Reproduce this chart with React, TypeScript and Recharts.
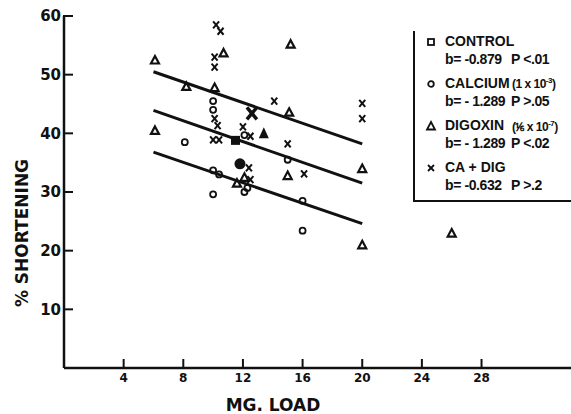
import React from "react";
import { ScatterChart, Scatter, XAxis, YAxis } from "recharts";

const xTicks = [4, 8, 12, 16, 20, 24, 28];
const yTicks = [10, 20, 30, 40, 50, 60];

// calcium (open circles)
const calcium = [
  { x: 10.0, y: 45.5 }, { x: 10.0, y: 44.0 }, { x: 8.1, y: 38.5 },
  { x: 12.1, y: 39.7 }, { x: 10.0, y: 33.7 }, { x: 10.4, y: 33.0 },
  { x: 12.3, y: 30.7 }, { x: 12.1, y: 30.0 }, { x: 10.0, y: 29.6 },
  { x: 15.0, y: 35.5 }, { x: 16.0, y: 28.5 }, { x: 16.0, y: 23.4 },
];

// digoxin (open triangles)
const digoxin = [
  { x: 6.1, y: 52.5 }, { x: 10.7, y: 53.7 }, { x: 8.2, y: 48.0 },
  { x: 10.1, y: 47.8 }, { x: 6.1, y: 40.5 }, { x: 11.6, y: 31.5 },
  { x: 12.1, y: 32.5 }, { x: 15.2, y: 55.2 }, { x: 15.1, y: 43.6 },
  { x: 15.0, y: 32.8 }, { x: 20.0, y: 34.0 }, { x: 20.0, y: 21.0 },
  { x: 26.0, y: 23.0 },
];

// ca + dig (crosses)
const caDig = [
  { x: 10.2, y: 58.5 }, { x: 10.5, y: 57.4 }, { x: 10.1, y: 53.0 },
  { x: 10.1, y: 51.3 }, { x: 10.1, y: 42.5 }, { x: 10.3, y: 41.3 },
  { x: 12.0, y: 41.1 }, { x: 10.0, y: 38.9 }, { x: 10.4, y: 38.9 },
  { x: 12.5, y: 39.5 }, { x: 12.4, y: 34.1 }, { x: 12.5, y: 32.1 },
  { x: 14.1, y: 45.5 }, { x: 20.0, y: 45.1 }, { x: 20.0, y: 42.5 },
  { x: 15.0, y: 38.2 }, { x: 16.1, y: 33.1 },
];

// group means (filled symbols)
const controlMean = [{ x: 11.5, y: 38.8 }];
const calciumMean = [{ x: 11.8, y: 34.8 }];
const digoxinMean = [{ x: 13.4, y: 40.0 }];
const caDigMean = [{ x: 12.6, y: 43.4 }];

// regression lines
const lineA = [{ x: 6, y: 50.5 }, { x: 20, y: 38.2 }];
const lineB = [{ x: 6, y: 43.9 }, { x: 20, y: 31.5 }];
const lineC = [{ x: 6, y: 36.8 }, { x: 20, y: 24.6 }];

const legendRows = [
  { symbol: "square", name: "CONTROL", extra: "", exp: "", close: "", b: "-0.879", p: "P <.01" },
  { symbol: "circle", name: "CALCIUM", extra: "(1 x 10", exp: "-3", close: ")", b: "- 1.289", p: "P >.05" },
  { symbol: "triangle", name: "DIGOXIN", extra: "(\u2159 x 10", exp: "-7", close: ")", b: "- 1.289", p: "P <.02" },
  { symbol: "cross", name: "CA + DIG", extra: "", exp: "", close: "", b: "-0.632", p: "P >.2" },
];

const INK = "#111";
const FONT = "'DejaVu Sans', sans-serif";
const LEG_FONT = "'Liberation Sans', Arial, sans-serif";

const OpenCircle = (p: any) => (
  <circle cx={p.cx} cy={p.cy} r={3} fill="none" stroke={INK} strokeWidth={1.8} />
);
const OpenTriangle = (p: any) => (
  <path
    d={`M${p.cx},${p.cy - 4} L${p.cx + 4},${p.cy + 3.5} L${p.cx - 4},${p.cy + 3.5} Z`}
    fill="none"
    stroke={INK}
    strokeWidth={2.2}
  />
);
const Cross = (p: any) => (
  <g stroke={INK} strokeWidth={2}>
    <line x1={p.cx - 3} y1={p.cy - 3.5} x2={p.cx + 3} y2={p.cy + 3.5} />
    <line x1={p.cx + 3} y1={p.cy - 3.5} x2={p.cx - 3} y2={p.cy + 3.5} />
  </g>
);
const FilledSquare = (p: any) => (
  <rect x={p.cx - 4.5} y={p.cy - 4.5} width={9} height={9} fill={INK} />
);
const FilledCircle = (p: any) => <circle cx={p.cx} cy={p.cy} r={5.5} fill={INK} />;
const FilledTriangle = (p: any) => (
  <path
    d={`M${p.cx},${p.cy - 6} L${p.cx + 5},${p.cy + 5} L${p.cx - 5},${p.cy + 5} Z`}
    fill={INK}
  />
);
const BoldCross = (p: any) => (
  <g stroke={INK} strokeWidth={3.5}>
    <line x1={p.cx - 5} y1={p.cy - 6} x2={p.cx + 5} y2={p.cy + 6} />
    <line x1={p.cx + 5} y1={p.cy - 6} x2={p.cx - 5} y2={p.cy + 6} />
  </g>
);
const NoDot = () => <g />;

const XTick = (props: any) => {
  const { x, y, payload } = props;
  return (
    <g>
      <line x1={x} x2={x} y1={y - 10} y2={y - 19} stroke={INK} strokeWidth={2} />
      <text x={x} y={y} dy="0.3em" textAnchor="middle" fill={INK} fontSize={12} fontWeight="bold" fontFamily={FONT}>
        {payload.value}
      </text>
    </g>
  );
};

const YTick = (props: any) => {
  const { x, y, payload } = props;
  return (
    <g>
      <line x1={x + 2} x2={x + 12} y1={y} y2={y} stroke={INK} strokeWidth={2} />
      <text x={x} y={y} dy="0.36em" textAnchor="end" fill={INK} fontSize={15} fontWeight="bold" fontFamily={FONT}>
        {payload.value}
      </text>
    </g>
  );
};

const XTitle = (props: any) => {
  const vb = props.viewBox;
  return (
    <text x={vb.x + 209} y={vb.y + 43} textAnchor="middle" fill={INK} fontSize={17} fontWeight="bold" fontFamily={FONT}>
      MG. LOAD
    </text>
  );
};

const YTitle = (props: any) => {
  const vb = props.viewBox;
  const cx = 22;
  const cy = vb.y + 217;
  return (
    <text
      x={cx}
      y={cy}
      transform={`rotate(-90 ${cx} ${cy})`}
      textAnchor="middle"
      dominantBaseline="central"
      fill={INK}
      fontSize={17}
      fontWeight="bold"
      fontFamily={FONT}
    >
      % SHORTENING
    </text>
  );
};

const LegendSymbol = ({ kind }: { kind: string }) => (
  <svg width={12} height={12} style={{ position: "absolute", left: -20, top: 3 }}>
    {kind === "square" && <rect x={3} y={3} width={6} height={6} fill="none" stroke={INK} strokeWidth={1.8} />}
    {kind === "circle" && <circle cx={6} cy={6} r={2.8} fill="none" stroke={INK} strokeWidth={1.8} />}
    {kind === "triangle" && <path d="M6,2 L10,9.5 L2,9.5 Z" fill="none" stroke={INK} strokeWidth={1.8} />}
    {kind === "cross" && (
      <g stroke={INK} strokeWidth={1.8}>
        <line x1={3} y1={3} x2={9} y2={9} />
        <line x1={9} y1={3} x2={3} y2={9} />
      </g>
    )}
  </svg>
);

function ChartLegend() {
  return (
    <div
      style={{
        position: "absolute",
        left: 413,
        top: 31,
        width: 170,
        height: 169,
        borderLeft: `2px solid ${INK}`,
        borderBottom: `2px solid ${INK}`,
        fontFamily: LEG_FONT,
        fontWeight: "bold",
        fontSize: 14,
        color: INK,
      }}
    >
      {legendRows.map((r, i) => (
        <div key={r.name} style={{ position: "absolute", left: 30, top: 2 + i * 42, width: 160, whiteSpace: "nowrap" }}>
          <div style={{ position: "relative", height: 18 }}>
            <LegendSymbol kind={r.symbol} />
            <span>{r.name}</span>
            {r.extra && (
              <span style={{ position: "absolute", left: 67, fontSize: 12, letterSpacing: -0.5, top: 1 }}>
                {r.extra}
                <sup style={{ fontSize: 8 }}>{r.exp}</sup>
                {r.close}
              </span>
            )}
          </div>
          <div style={{ position: "relative", height: 18, letterSpacing: -0.4 }}>
            <span>b= {r.b}</span>
            <span style={{ position: "absolute", left: 66 }}>{r.p}</span>
          </div>
        </div>
      ))}
    </div>
  );
}

export default function App() {
  return (
    <div
      style={{
        position: "absolute",
        left: 0,
        top: 0,
        width: 571,
        height: 414,
        overflow: "hidden",
        background: "#fff",
      }}
    >
      <ScatterChart width={571} height={414} margin={{ top: 16, right: 0, bottom: 0, left: 0 }}>
        <XAxis
          type="number"
          dataKey="x"
          domain={[0, 34]}
          ticks={xTicks}
          interval={0}
          tickSize={0}
          tickMargin={10}
          tickLine={false}
          tick={<XTick />}
          axisLine={{ stroke: INK, strokeWidth: 2.5 }}
          height={46}
          label={<XTitle />}
        />
        <YAxis
          type="number"
          dataKey="y"
          domain={[0, 60]}
          ticks={yTicks}
          interval={0}
          tickSize={0}
          tickMargin={3}
          tickLine={false}
          tick={<YTick />}
          axisLine={{ stroke: INK, strokeWidth: 2.5 }}
          width={64}
          label={<YTitle />}
        />
        <Scatter data={lineA} line={{ stroke: INK, strokeWidth: 3 }} shape={NoDot} isAnimationActive={false} />
        <Scatter data={lineB} line={{ stroke: INK, strokeWidth: 3 }} shape={NoDot} isAnimationActive={false} />
        <Scatter data={lineC} line={{ stroke: INK, strokeWidth: 3 }} shape={NoDot} isAnimationActive={false} />
        <Scatter data={calcium} shape={OpenCircle} isAnimationActive={false} />
        <Scatter data={digoxin} shape={OpenTriangle} isAnimationActive={false} />
        <Scatter data={caDig} shape={Cross} isAnimationActive={false} />
        <Scatter data={controlMean} shape={FilledSquare} isAnimationActive={false} />
        <Scatter data={calciumMean} shape={FilledCircle} isAnimationActive={false} />
        <Scatter data={digoxinMean} shape={FilledTriangle} isAnimationActive={false} />
        <Scatter data={caDigMean} shape={BoldCross} isAnimationActive={false} />
      </ScatterChart>
      <ChartLegend />
    </div>
  );
}
